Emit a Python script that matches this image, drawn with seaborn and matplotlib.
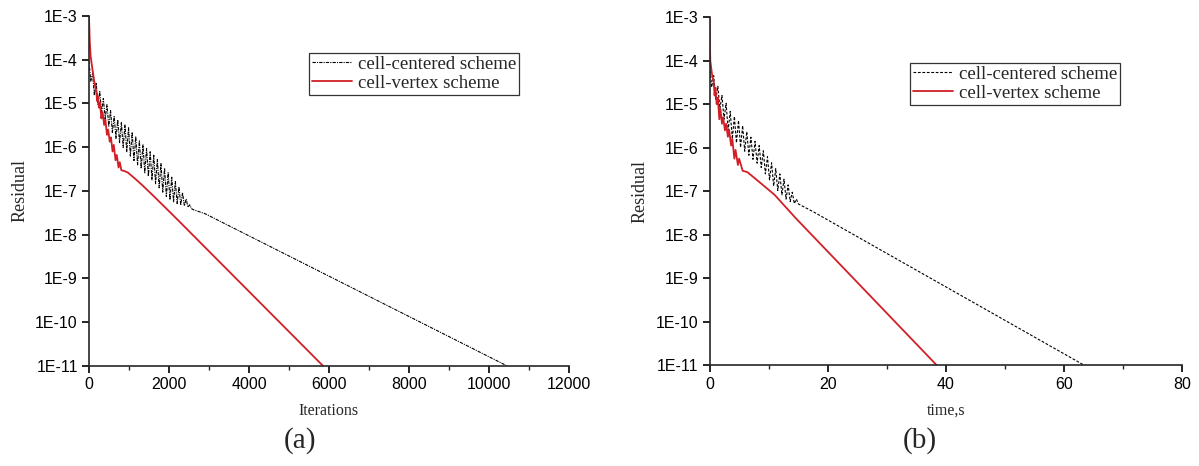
import matplotlib
matplotlib.use("Agg")
import matplotlib.pyplot as plt
from matplotlib.ticker import FixedLocator, MultipleLocator, FixedFormatter, NullLocator
import seaborn as sns
import pandas as pd

# ---------------- data ----------------
# (a) residual vs iterations, cell-centered scheme
cc_iter = [0, 45, 90, 135, 180, 225, 270, 315, 360, 405, 450, 495, 540, 585, 630,
           675, 720, 765, 810, 855, 900, 945, 990, 1035, 1080, 1125, 1170, 1215,
           1260, 1305, 1350, 1395, 1440, 1485, 1530, 1575, 1620, 1665, 1710, 1755,
           1800, 1845, 1890, 1935, 1980, 2025, 2070, 2115, 2160, 2205, 2250, 2295,
           2340, 2385, 2430, 2475, 2520, 2565, 2610, 2900, 10450]
cc_iter_res = [9.3e-5, 3.2e-5, 4.8e-5, 1.5e-5, 2.95e-5, 9.3e-6, 1.86e-5, 6.0e-6,
               1.29e-5, 4.4e-6, 9.3e-6, 3.0e-6, 6.8e-6, 2.14e-6, 5.0e-6, 1.58e-6,
               4.2e-6, 1.26e-6, 3.6e-6, 9.8e-7, 3.2e-6, 7.8e-7, 2.75e-6, 6.2e-7,
               2.19e-6, 4.9e-7, 1.74e-6, 3.9e-7, 1.38e-6, 3.2e-7, 1.12e-6, 2.57e-7,
               9.3e-7, 2.14e-7, 7.8e-7, 1.78e-7, 6.5e-7, 1.45e-7, 5.2e-7, 1.17e-7,
               4.2e-7, 9.3e-8, 3.3e-7, 7.4e-8, 2.6e-7, 6.2e-8, 2.04e-7, 5.6e-8,
               1.62e-7, 5.1e-8, 1.23e-7, 4.7e-8, 9.1e-8, 4.5e-8, 6.5e-8, 4.2e-8,
               4.8e-8, 3.9e-8, 3.7e-8, 3.0e-8, 1.0e-11]

# (a) residual vs iterations, cell-vertex scheme
cv_iter = [0, 20, 40, 60, 100, 142, 185, 205, 225, 250, 275, 310, 340, 380, 410,
           450, 480, 520, 550, 590, 620, 665, 695, 740, 770, 810, 900, 975, 1150,
           1308, 1642, 2225, 5850]
cv_iter_res = [1.0e-3, 2.5e-4, 1.26e-4, 8.9e-5, 5.0e-5, 2.8e-5, 1.78e-5, 1.12e-5,
               1.41e-5, 7.9e-6, 1.05e-5, 4.5e-6, 6.3e-6, 3.2e-6, 4.2e-6, 1.9e-6,
               2.5e-6, 1.32e-6, 1.66e-6, 7.9e-7, 1.12e-6, 5.0e-7, 6.6e-7, 3.4e-7,
               4.5e-7, 2.95e-7, 2.8e-7, 2.6e-7, 1.9e-7, 1.41e-7, 7.2e-8, 2.14e-8,
               1.0e-11]

# (b) residual vs wall time, cell-centered scheme
cc_time = [0.0, 0.35, 0.70, 1.05, 1.40, 1.75, 2.10, 2.45, 2.80, 3.15, 3.50, 3.85,
           4.20, 4.55, 4.90, 5.25, 5.60, 5.95, 6.30, 6.65, 7.00, 7.35, 7.70, 8.05,
           8.40, 8.75, 9.10, 9.45, 9.80, 10.15, 10.50, 10.85, 11.20, 11.55, 11.90,
           12.25, 12.60, 12.95, 13.30, 13.65, 14.00, 14.35, 14.70, 15.05, 17.7, 63.5]
cc_time_res = [9.3e-5, 2.45e-5, 4.5e-5, 1.23e-5, 2.57e-5, 7.9e-6, 1.58e-5, 4.5e-6,
               1.05e-5, 2.5e-6, 6.8e-6, 1.58e-6, 5.2e-6, 1.29e-6, 4.2e-6, 1.02e-6,
               3.2e-6, 8.3e-7, 2.34e-6, 6.7e-7, 1.74e-6, 5.4e-7, 1.40e-6, 4.4e-7,
               1.12e-6, 3.5e-7, 8.5e-7, 2.5e-7, 6.2e-7, 1.82e-7, 4.5e-7, 1.32e-7,
               3.3e-7, 1.04e-7, 2.5e-7, 8.3e-8, 1.9e-7, 6.6e-8, 1.40e-7, 5.8e-8,
               9.5e-8, 5.2e-8, 6.6e-8, 5.1e-8, 3.3e-8, 1.0e-11]

# (b) residual vs wall time, cell-vertex scheme
cv_time = [0.0, 0.05, 0.12, 0.4, 0.7, 0.85, 1.0, 1.2, 1.4, 1.65, 1.85, 2.1, 2.3,
           2.6, 2.8, 3.1, 3.3, 3.65, 3.85, 4.2, 4.4, 4.8, 5.0, 5.6, 6.4, 8.0, 11.0,
           14.6, 38.5]
cv_time_res = [1.0e-3, 3.2e-4, 1.0e-4, 5.0e-5, 3.2e-5, 1.58e-5, 2.4e-5, 1.0e-5,
               1.41e-5, 4.5e-6, 7.6e-6, 3.55e-6, 5.0e-6, 2.5e-6, 3.55e-6, 1.78e-6,
               2.6e-6, 1.12e-6, 1.58e-6, 5.6e-7, 8.9e-7, 4.0e-7, 5.6e-7, 2.95e-7,
               2.75e-7, 1.82e-7, 8.3e-8, 2.4e-8, 1.0e-11]

labels = ["cell-centered scheme", "cell-vertex scheme"]
decade_ticks = [1e-3, 1e-4, 1e-5, 1e-6, 1e-7, 1e-8, 1e-9, 1e-10, 1e-11]
decade_labels = ["1E-3", "1E-4", "1E-5", "1E-6", "1E-7", "1E-8", "1E-9", "1E-10", "1E-11"]

# ---------------- style ----------------
sns.set_style("ticks")
plt.rcParams["font.family"] = ["Liberation Serif", "DejaVu Serif"]
plt.rcParams["axes.linewidth"] = 1.2
plt.rcParams["xtick.major.width"] = 1.2
plt.rcParams["ytick.major.width"] = 1.2
plt.rcParams["xtick.minor.width"] = 1.0
plt.rcParams["xtick.major.size"] = 5
plt.rcParams["ytick.major.size"] = 5
plt.rcParams["xtick.minor.size"] = 3
plt.rcParams["xtick.direction"] = "out"
plt.rcParams["ytick.direction"] = "out"

RED = "#d21f26"
SANS = ["Liberation Sans", "DejaVu Sans"]

fig = plt.figure(figsize=(11.99, 4.66), dpi=100)
ax_a = fig.add_axes([0.0742, 0.2150, 0.4003, 0.7512])
ax_b = fig.add_axes([0.5918, 0.2157, 0.3941, 0.7478])


def make_frame(x, y, name):
    return pd.DataFrame({"x": x, "y": y, "scheme": name})


def draw_panel(ax, cc_x, cc_y, cv_x, cv_y, cc_style, xmax, xmajor, xlabel,
               legend_anchor):
    sns.lineplot(data=make_frame(cc_x, cc_y, labels[0]), x="x", y="y", ax=ax,
                 estimator=None, sort=False, color="black", lw=0.8,
                 linestyle=cc_style, label=labels[0])
    sns.lineplot(data=make_frame(cv_x, cv_y, labels[1]), x="x", y="y", ax=ax,
                 estimator=None, sort=False, color=RED, lw=1.3,
                 label=labels[1])
    ax.set_yscale("log")
    ax.set_ylim(1e-11, 1e-3)
    ax.set_xlim(0, xmax)
    ax.yaxis.set_major_locator(FixedLocator(decade_ticks))
    ax.yaxis.set_major_formatter(FixedFormatter(decade_labels))
    ax.yaxis.set_minor_locator(NullLocator())
    ax.xaxis.set_major_locator(MultipleLocator(xmajor))
    ax.xaxis.set_minor_locator(MultipleLocator(xmajor / 2))
    for lab in ax.get_xticklabels() + ax.get_yticklabels():
        lab.set_fontfamily(SANS)
        lab.set_fontsize(11.5)
    ax.tick_params(axis="both", colors="black", pad=3)
    sns.despine(ax=ax)
    ax.set_xlabel(xlabel, fontsize=11.5, labelpad=8)
    ax.set_ylabel("Residual", fontsize=13, labelpad=5)
    leg = ax.legend(loc="upper left", bbox_to_anchor=legend_anchor,
                    bbox_transform=fig.transFigure, fontsize=13.5,
                    frameon=True, fancybox=False, handlelength=2.15,
                    handletextpad=0.3, borderpad=0.15, labelspacing=0.1,
                    borderaxespad=0)
    leg.get_frame().set_edgecolor("black")
    leg.get_frame().set_linewidth(0.9)


draw_panel(ax_a, cc_iter, cc_iter_res, cv_iter, cv_iter_res,
           (0, (3, 1, 1, 1)), 12000, 2000, "Iterations", (309 / 1199, 1 - 53 / 466))
draw_panel(ax_b, cc_time, cc_time_res, cv_time, cv_time_res,
           (0, (2.5, 1.5)), 80, 20, "time,s", (910 / 1199, 1 - 63 / 466))

fig.text(300 / 1199, 1 - 441 / 466, "(a)", ha="center", va="center", fontsize=21)
fig.text(920 / 1199, 1 - 441 / 466, "(b)", ha="center", va="center", fontsize=21)

fig.savefig("out.png", dpi=100)
